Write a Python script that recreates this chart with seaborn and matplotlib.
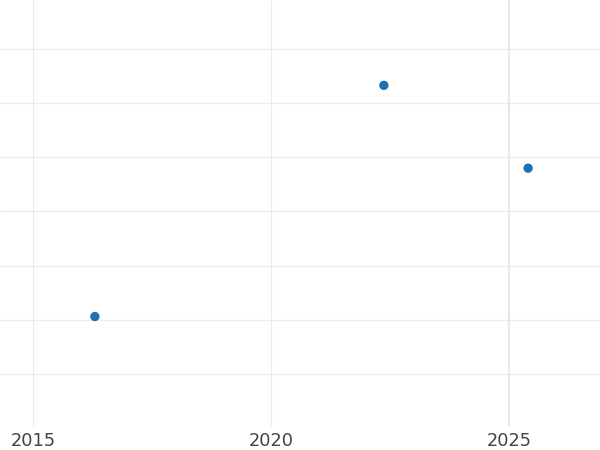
import numpy as np
import pandas as pd
import seaborn as sns
import matplotlib
matplotlib.use("Agg")
import matplotlib.pyplot as plt

# dane
lata = [2016.3, 2022.37, 2025.4]
wartosci = [20.6, 63.3, 48.0]

x_ticks = [2015, 2020, 2025]
y_ticks = [10, 20, 30, 40, 50, 60, 70]

df = pd.DataFrame({"rok": lata, "wartosc": wartosci})

sns.set_style("white")
plt.rcParams["font.family"] = ["DejaVu Sans"]

fig = plt.figure(figsize=(6, 4.5), dpi=100)
ax = fig.add_axes([0, 0.0533, 1, 0.9467])

sns.scatterplot(data=df, x="rok", y="wartosc", ax=ax, s=45,
                color="#1f70b0", edgecolor="none", zorder=3)

ax.set_xlim(2014.307, 2026.91)
ax.set_ylim(0.37, 79.07)
ax.set_xticks(x_ticks)
ax.set_yticks(y_ticks)
ax.set_yticklabels([])
ax.grid(True, color="#ebebeb", linewidth=0.8)
ax.axvline(2025, color="#e8e8e8", linewidth=1.6, zorder=1)
ax.set_axisbelow(True)
ax.tick_params(axis="both", length=0)
ax.tick_params(axis="x", labelsize=12.8, labelcolor="#444444", pad=4.5)
ax.set_xlabel("")
ax.set_ylabel("")
for s in ax.spines.values():
    s.set_visible(False)

fig.savefig("out.png", dpi=100)
